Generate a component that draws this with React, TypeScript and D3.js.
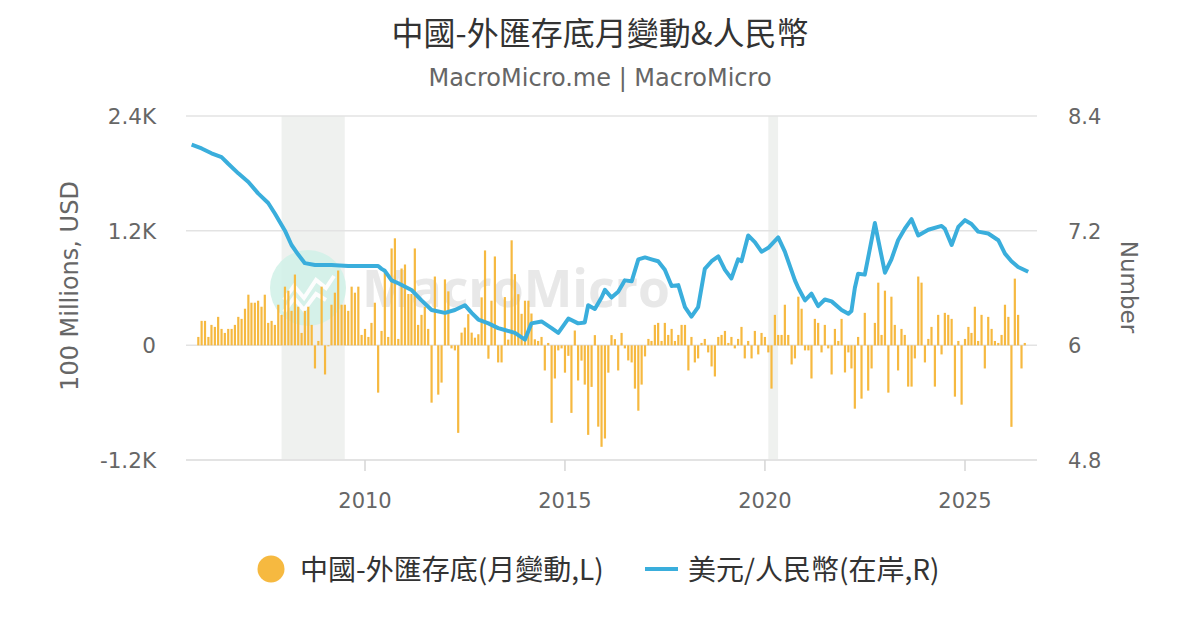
import React from "react";
import * as d3 from "d3";

// monthly change of China's FX reserves (100 million USD), first bar = reserveStart
const reserveStart = "2005-11";
const reserveChange = [
  88, 256, 256, 88, 214, 193, 298, 172, 130, 172, 172, 214,
  298, 277, 383, 530, 446, 446, 467, 404, 530, 235, 256, 214,
  425, 319, 614, 572, 361, 741, 404, 130, 361, 404, 214, -242,
  46, 614, -305, -10, 425, 551, 783, 425, 425, 361, 614, 551,
  614, 109, 172, 88, 235, 446, -495, 151, 762, 88, 1014, 1120,
  67, 804, 846, 537, 537, 1014, 214, 319, 404, 172, -600, 720,
  -516, -390, 690, 565, -32, -53, -916, 133, 186, 326, 133, 80,
  116, 502, 993, -140, 467, 930, -179, -179, 505, 60, 1099, 745,
  535, 330, 467, 467, 333, 63, 46, 88, -263, 25, -811, -347,
  -53, -32, -286, -110, -707, 155, -368, -160, -411, -937, -435, 107,
  -851, -1062, -975, -286, 107, 65, -263, 130, -32, -158, -179, -453,
  -684, -411, -116, 67, 46, 214, 235, 46, 235, 109, 172, 46,
  109, 214, 214, -263, 88, -179, -137, 25, 67, -74, -221, -326,
  88, 109, 151, 25, 88, -32, 67, 193, -137, 46, -137, 151,
  -95, 130, 88, -74, -453, 319, 109, 109, 425, 109, -200, -137,
  509, 383, -53, -53, -347, 277, 235, -74, 214, -32, -305, 172,
  46, 277, -284, -74, -242, -663, 88, -558, 340, -474, -242, 235,
  656, 109, 572, -495, 509, 214, -263, 172, 109, -432, -432, -137,
  720, 656, -179, 67, 193, -432, 319, -95, 340, 319, 277, -537,
  46, -621, 67, 193, 130, 404, 46, 319, -242, 298, 172, 46,
  25, 109, 425, 298, -853, 698, 319, -242, 25,
];

// USD/CNY onshore
const fxMonths = [
  "2005-09", "2005-12", "2006-03", "2006-06", "2006-08", "2006-11", "2007-02", "2007-05",
  "2007-08", "2007-10", "2008-01", "2008-03", "2008-05", "2008-07", "2008-10", "2009-03",
  "2009-08", "2010-01", "2010-05", "2010-06", "2010-07", "2010-09", "2010-11", "2011-03",
  "2011-06", "2011-09", "2012-01", "2012-04", "2012-07", "2012-09", "2012-11", "2013-02",
  "2013-05", "2013-07", "2013-10", "2014-01", "2014-03", "2014-06", "2014-09", "2014-11",
  "2015-02", "2015-05", "2015-07", "2015-08", "2015-10", "2015-12", "2016-01", "2016-03",
  "2016-05", "2016-07", "2016-09", "2016-11", "2017-01", "2017-03", "2017-05", "2017-07",
  "2017-09", "2017-11", "2018-01", "2018-03", "2018-05", "2018-07", "2018-09", "2018-11",
  "2019-01", "2019-03", "2019-05", "2019-06", "2019-08", "2019-10", "2019-12", "2020-02",
  "2020-05", "2020-07", "2020-10", "2020-11", "2021-01", "2021-03", "2021-05", "2021-07",
  "2021-09", "2021-12", "2022-02", "2022-03", "2022-04", "2022-05", "2022-07", "2022-08",
  "2022-10", "2022-11", "2023-01", "2023-03", "2023-05", "2023-07", "2023-09", "2023-11",
  "2024-02", "2024-06", "2024-07", "2024-09", "2024-11", "2025-01", "2025-03", "2025-05",
  "2025-08", "2025-11", "2026-01", "2026-03", "2026-05", "2026-08",
];
const fxRates = [
  8.1, 8.06, 8.01, 7.97, 7.9, 7.8, 7.71, 7.59,
  7.49, 7.38, 7.2, 7.05, 6.95, 6.86, 6.84, 6.84,
  6.83, 6.83, 6.83, 6.8, 6.78, 6.68, 6.65, 6.58,
  6.47, 6.37, 6.34, 6.37, 6.42, 6.34, 6.27, 6.23,
  6.18, 6.16, 6.13, 6.06, 6.23, 6.25, 6.18, 6.13,
  6.28, 6.23, 6.24, 6.42, 6.38, 6.5, 6.58, 6.5,
  6.56, 6.68, 6.67, 6.9, 6.92, 6.9, 6.88, 6.79,
  6.62, 6.63, 6.4, 6.3, 6.4, 6.8, 6.88, 6.93,
  6.79, 6.7, 6.9, 6.88, 7.15, 7.08, 6.98, 7.02,
  7.13, 6.98, 6.68, 6.6, 6.47, 6.54, 6.41, 6.48,
  6.46, 6.37, 6.33, 6.36, 6.6, 6.75, 6.74, 6.92,
  7.28, 7.1, 6.76, 6.9, 7.1, 7.22, 7.32, 7.15,
  7.21, 7.25, 7.22, 7.05, 7.24, 7.31, 7.27, 7.19,
  7.17, 7.1, 6.96, 6.88, 6.82, 6.77,
];

const leftTicks = [-1200, 0, 1200, 2400];
const leftTickLabels = ["-1.2K", "0", "1.2K", "2.4K"];
const rightTicks = [4.8, 6, 7.2, 8.4];
const rightTickLabels = ["4.8", "6", "7.2", "8.4"];
const yearTicks = [2010, 2015, 2020, 2025];
const recessions = [
  ["2007-12-01", "2009-06-30"],
  ["2020-02-01", "2020-04-30"],
];

const W = 1200;
const H = 630;
const left = 186;
const right = 1037;
const top = 116;
const bottom = 460;

const barColor = "#f6b940";
const lineColor = "#3aaedc";
const cjk = "'Noto Sans CJK TC', 'Noto Sans', sans-serif";
const latin = "'DejaVu Sans', sans-serif";

const App = () => {
  const parseMonth = d3.timeParse("%Y-%m");
  const parseDay = d3.timeParse("%Y-%m-%d");

  const x = d3
    .scaleTime()
    .domain([new Date(2010, 0, 1), new Date(2025, 0, 1)])
    .range([365, 965]);
  const yL = d3.scaleLinear().domain([-1200, 2400]).range([bottom, top]);
  const yR = d3.scaleLinear().domain([4.8, 8.4]).range([bottom, top]);

  const start = parseMonth(reserveStart)!;
  const bars = reserveChange.map((v, i) => ({
    date: d3.timeMonth.offset(start, i),
    value: v,
  }));
  const fx = fxMonths.map((m, i) => ({ date: parseMonth(m)!, value: fxRates[i] }));

  const line = d3
    .line<{ date: Date; value: number }>()
    .x((d) => x(d.date))
    .y((d) => yR(d.value));

  const barW = 2.2;

  return (
    <svg width={W} height={H} style={{ position: "absolute", left: 0, top: 0, background: "#fff" }}>
      <defs>
        <clipPath id="plot">
          <rect x={left} y={top - 10} width={right - left} height={bottom - top + 20} />
        </clipPath>
      </defs>

      <text x={600} y={45} textAnchor="middle" fontFamily={cjk} fontSize={32} fill="#333">
        中國-外匯存底月變動&amp;人民幣
      </text>
      <text x={600} y={86} textAnchor="middle" fontFamily={latin} fontSize={24} fill="#666">
        MacroMicro.me | MacroMicro
      </text>

      {/* recession bands */}
      {recessions.map(([a, b], i) => (
        <rect
          key={i}
          x={x(parseDay(a)!)}
          y={top}
          width={x(parseDay(b)!) - x(parseDay(a)!)}
          height={bottom - top}
          fill="#eff1ef"
        />
      ))}

      {/* grid */}
      {leftTicks.map((t) => (
        <line key={t} x1={left} x2={right} y1={yL(t)} y2={yL(t)} stroke="#e3e3e3" strokeWidth={t === -1200 ? 2 : 1.5} />
      ))}
      {yearTicks.map((yr) => (
        <line
          key={yr}
          x1={x(new Date(yr, 0, 1))}
          x2={x(new Date(yr, 0, 1))}
          y1={bottom}
          y2={bottom + 11}
          stroke="#d6d6d6"
          strokeWidth={1.5}
        />
      ))}

      {/* watermark */}
      <g opacity={0.9}>
        <circle cx={308} cy={288} r={38} fill="#d3f2e9" />
        <polyline
          points="284,300 294,286 304,298 316,280 326,288 334,276"
          fill="none"
          stroke="#fff"
          strokeWidth={4}
        />
        <polyline points="284,312 294,298 304,310 316,294 326,300" fill="none" stroke="#fff" strokeWidth={4} />
        <text
          x={362}
          y={307}
          fontFamily="'Open Sans', sans-serif"
          fontWeight={700}
          fontSize={52}
          fill="#e6e6e6"
          textLength={308}
          lengthAdjust="spacingAndGlyphs"
        >
          MacroMicro
        </text>
      </g>

      <g clipPath="url(#plot)">
        {bars.map((d, i) => (
          <rect
            key={i}
            x={x(d.date) - barW / 2}
            y={Math.min(yL(d.value), yL(0))}
            width={barW}
            height={Math.abs(yL(d.value) - yL(0))}
            fill={barColor}
          />
        ))}
        <path d={line(fx)!} fill="none" stroke={lineColor} strokeWidth={4} strokeLinejoin="round" />
      </g>

      {/* axes labels */}
      {leftTicks.map((t, i) => (
        <text key={t} x={156} y={yL(t) + 8} textAnchor="end" fontFamily={latin} fontSize={21.5} fill="#666">
          {leftTickLabels[i]}
        </text>
      ))}
      {rightTicks.map((t, i) => (
        <text key={t} x={1068} y={yR(t) + 8} textAnchor="start" fontFamily={latin} fontSize={21} fill="#666">
          {rightTickLabels[i]}
        </text>
      ))}
      {yearTicks.map((yr) => (
        <text
          key={yr}
          x={x(new Date(yr, 0, 1))}
          y={508}
          textAnchor="middle"
          fontFamily={latin}
          fontSize={21}
          fill="#666"
        >
          {yr}
        </text>
      ))}
      <text
        transform="translate(78,286) rotate(-90)"
        textAnchor="middle"
        fontFamily={latin}
        fontSize={24}
        fill="#666"
      >
        100 Millions, USD
      </text>
      <text
        transform="translate(1121,287) rotate(90)"
        textAnchor="middle"
        fontFamily={latin}
        fontSize={23}
        fill="#666"
      >
        Number
      </text>

      {/* legend */}
      <circle cx={271} cy={569} r={13.5} fill={barColor} />
      <text x={300} y={580} fontFamily={cjk} fontSize={28} fill="#333">
        中國-外匯存底(月變動,L)
      </text>
      <line x1={645} x2={678} y1={569} y2={569} stroke={lineColor} strokeWidth={4} />
      <text x={688} y={580} fontFamily={cjk} fontSize={28} fill="#333">
        美元/人民幣(在岸,R)
      </text>
    </svg>
  );
};

export default App;
